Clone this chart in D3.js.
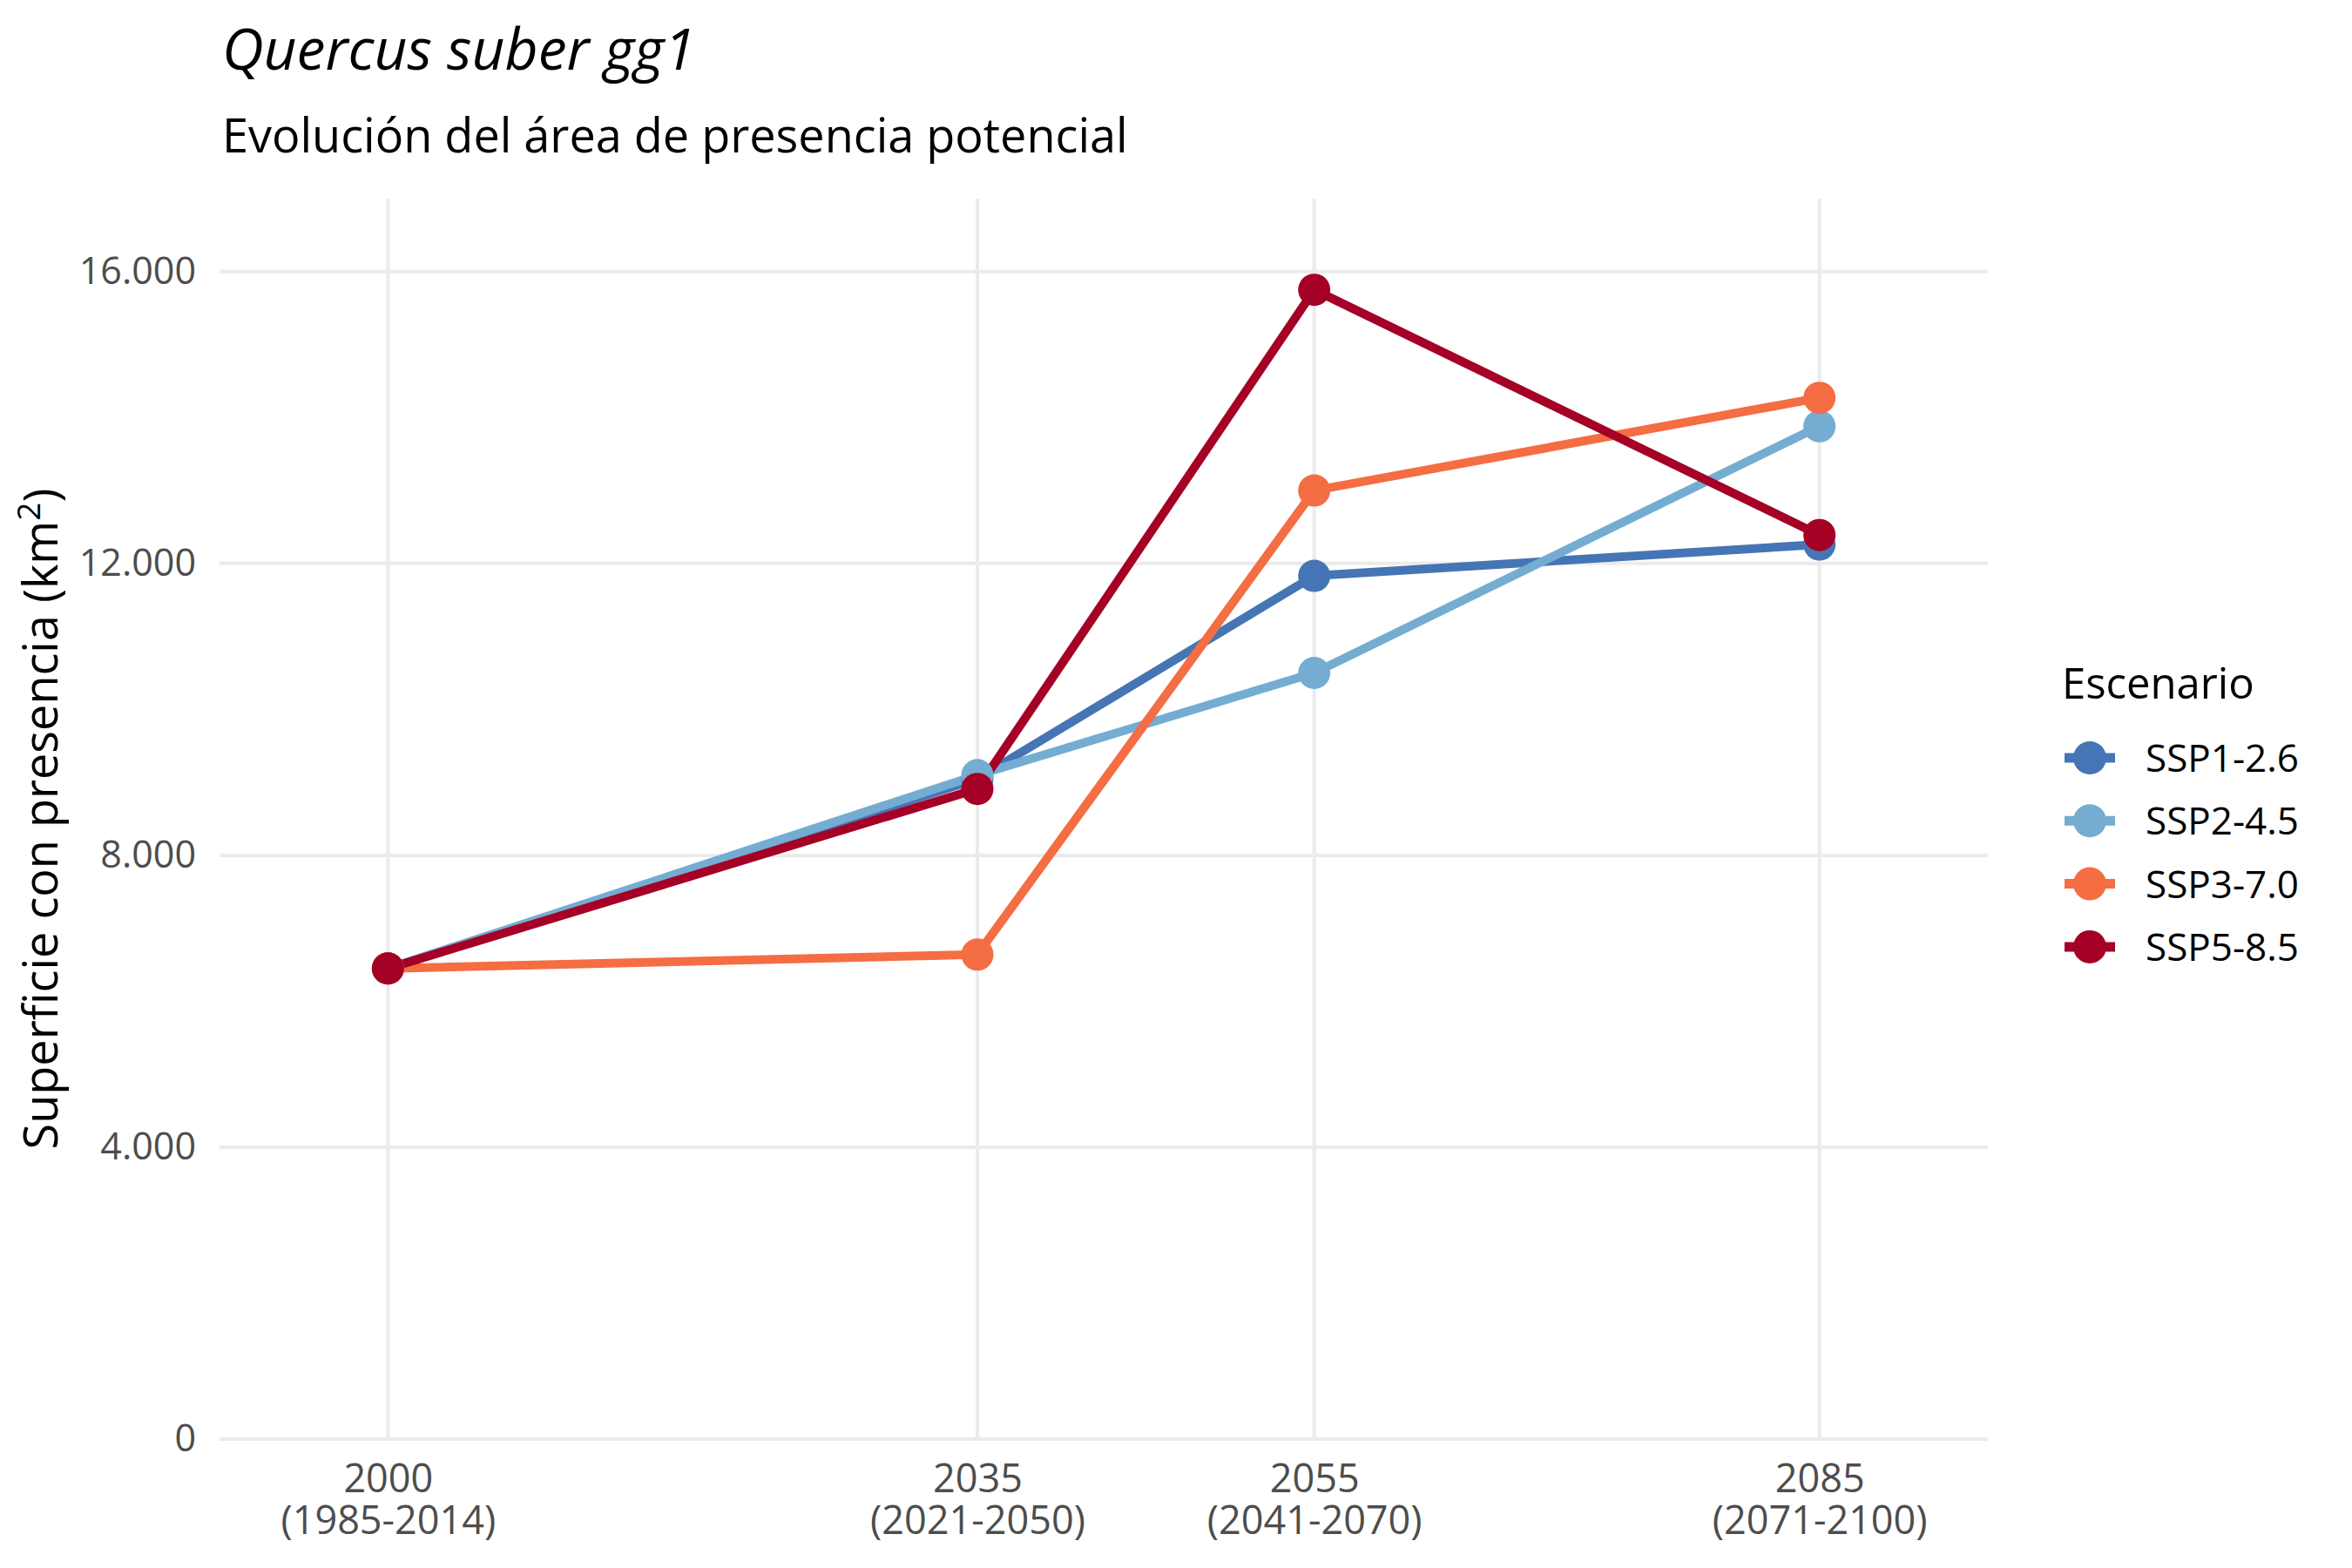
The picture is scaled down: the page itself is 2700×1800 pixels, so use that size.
<!DOCTYPE html>
<html>
<head>
<meta charset="utf-8">
<script src="https://cdn.jsdelivr.net/npm/d3@7"></script>
<style>
  body { margin: 0; background: #fff; }
  text { font-family: "Open Sans", "Noto Sans", sans-serif; }
</style>
</head>
<body>
<svg id="chart" width="2700" height="1800"></svg>
<script>
// data
const years = [2000, 2035, 2055, 2085];
const periodLabels = ['(1985-2014)', '(2021-2050)', '(2041-2070)', '(2071-2100)'];
const scenarios = ['SSP1-2.6', 'SSP2-4.5', 'SSP3-7.0', 'SSP5-8.5'];
const ssp126 = [6450, 9050, 11830, 12260];
const ssp245 = [6450, 9100, 10500, 13880];
const ssp370 = [6450, 6640, 13000, 14270];
const ssp585 = [6450, 8910, 15750, 12390];
const yTicks = [0, 4000, 8000, 12000, 16000];
const colors = ['#4575b4', '#74add1', '#f46d43', '#a50026'];

const seriesValues = [ssp126, ssp245, ssp370, ssp585];
const series = scenarios.map((name, i) => ({
    name,
    color: colors[i],
    points: years.map((yr, j) => ({ year: yr, value: seriesValues[i][j] }))
}));

const margin = { top: 228, left: 252 };
const width = 2030;
const height = 1424;
const font = '"Open Sans", "Noto Sans", sans-serif';

const svg = d3.select('#chart');
svg.append('rect').attr('width', 2700).attr('height', 1800).attr('fill', '#fff');

const x = d3.scaleLinear().domain([1990, 2095]).range([0, width]);
const y = d3.scaleLinear().domain([0, 17000]).range([height, 0]);

const locale = d3.formatLocale({ decimal: ',', thousands: '.', grouping: [3], currency: ['', ''] });
const fmt = locale.format(',d');

const g = svg.append('g').attr('transform', `translate(${margin.left},${margin.top})`);

// gridlines
g.append('g')
    .selectAll('line')
    .data(yTicks)
    .join('line')
    .attr('x1', 0)
    .attr('x2', width)
    .attr('y1', d => y(d))
    .attr('y2', d => y(d))
    .attr('stroke', '#ebebeb')
    .attr('stroke-width', 4);

g.append('g')
    .selectAll('line')
    .data(years)
    .join('line')
    .attr('x1', d => x(d))
    .attr('x2', d => x(d))
    .attr('y1', 0)
    .attr('y2', height)
    .attr('stroke', '#ebebeb')
    .attr('stroke-width', 4);

// y axis labels
const yAxis = g.append('g')
    .call(d3.axisLeft(y).tickValues(yTicks).tickFormat(fmt).tickSize(0).tickPadding(27));
yAxis.select('.domain').remove();
yAxis.selectAll('text')
    .attr('font-size', 43)
    .attr('fill', '#4d4d4d')
    .attr('font-family', font);

// x axis labels, two lines
const xAxis = g.append('g')
    .attr('transform', `translate(0,${height})`)
    .call(d3.axisBottom(x).tickValues(years).tickFormat('').tickSize(0));
xAxis.select('.domain').remove();
xAxis.selectAll('.tick')
    .append('text')
    .attr('text-anchor', 'middle')
    .attr('font-size', 45)
    .attr('fill', '#4d4d4d')
    .attr('font-family', font)
    .each(function (d, i) {
        const t = d3.select(this);
        t.append('tspan').attr('x', 0).attr('y', 61).text(d);
        t.append('tspan').attr('x', 0).attr('y', 109).text(periodLabels[i]);
    });

// lines then points
const line = d3.line().x(d => x(d.year)).y(d => y(d.value));

g.append('g')
    .selectAll('path')
    .data(series)
    .join('path')
    .attr('d', d => line(d.points))
    .attr('fill', 'none')
    .attr('stroke', d => d.color)
    .attr('stroke-width', 10)
    .attr('stroke-linejoin', 'round');

g.append('g')
    .selectAll('g')
    .data(series)
    .join('g')
    .attr('fill', d => d.color)
    .selectAll('circle')
    .data(d => d.points)
    .join('circle')
    .attr('cx', d => x(d.year))
    .attr('cy', d => y(d.value))
    .attr('r', 18.5);

// titles
svg.append('text')
    .attr('x', 255)
    .attr('y', 80)
    .attr('font-size', 66)
    .attr('font-style', 'italic')
    .attr('fill', '#000')
    .text('Quercus suber gg1');

svg.append('text')
    .attr('x', 255)
    .attr('y', 175)
    .attr('font-size', 54)
    .attr('fill', '#000')
    .text('Evolución del área de presencia potencial');

// y axis title
const yTitle = svg.append('text')
    .attr('transform', `translate(66,${margin.top + height / 2}) rotate(-90)`)
    .attr('text-anchor', 'middle')
    .attr('font-size', 54)
    .attr('fill', '#000');
yTitle.append('tspan').text('Superficie con presencia (km');
yTitle.append('tspan').attr('font-size', 37).attr('dy', -20).text('2');
yTitle.append('tspan').attr('dy', 20).text(')');

// legend
const legend = svg.append('g').attr('transform', 'translate(2367,0)');
legend.append('text')
    .attr('x', 0)
    .attr('y', 802)
    .attr('font-size', 49)
    .attr('fill', '#000')
    .text('Escenario');

const rows = legend.selectAll('g.key')
    .data(series)
    .join('g')
    .attr('class', 'key')
    .attr('transform', (d, i) => `translate(0,${870 + i * 72.3})`);

rows.append('line')
    .attr('x1', 3)
    .attr('x2', 61)
    .attr('stroke', d => d.color)
    .attr('stroke-width', 11);
rows.append('circle')
    .attr('cx', 32)
    .attr('r', 19)
    .attr('fill', d => d.color);
rows.append('text')
    .attr('x', 96)
    .attr('y', 16)
    .attr('font-size', 44)
    .attr('fill', '#000')
    .text(d => d.name);
</script>
</body>
</html>
